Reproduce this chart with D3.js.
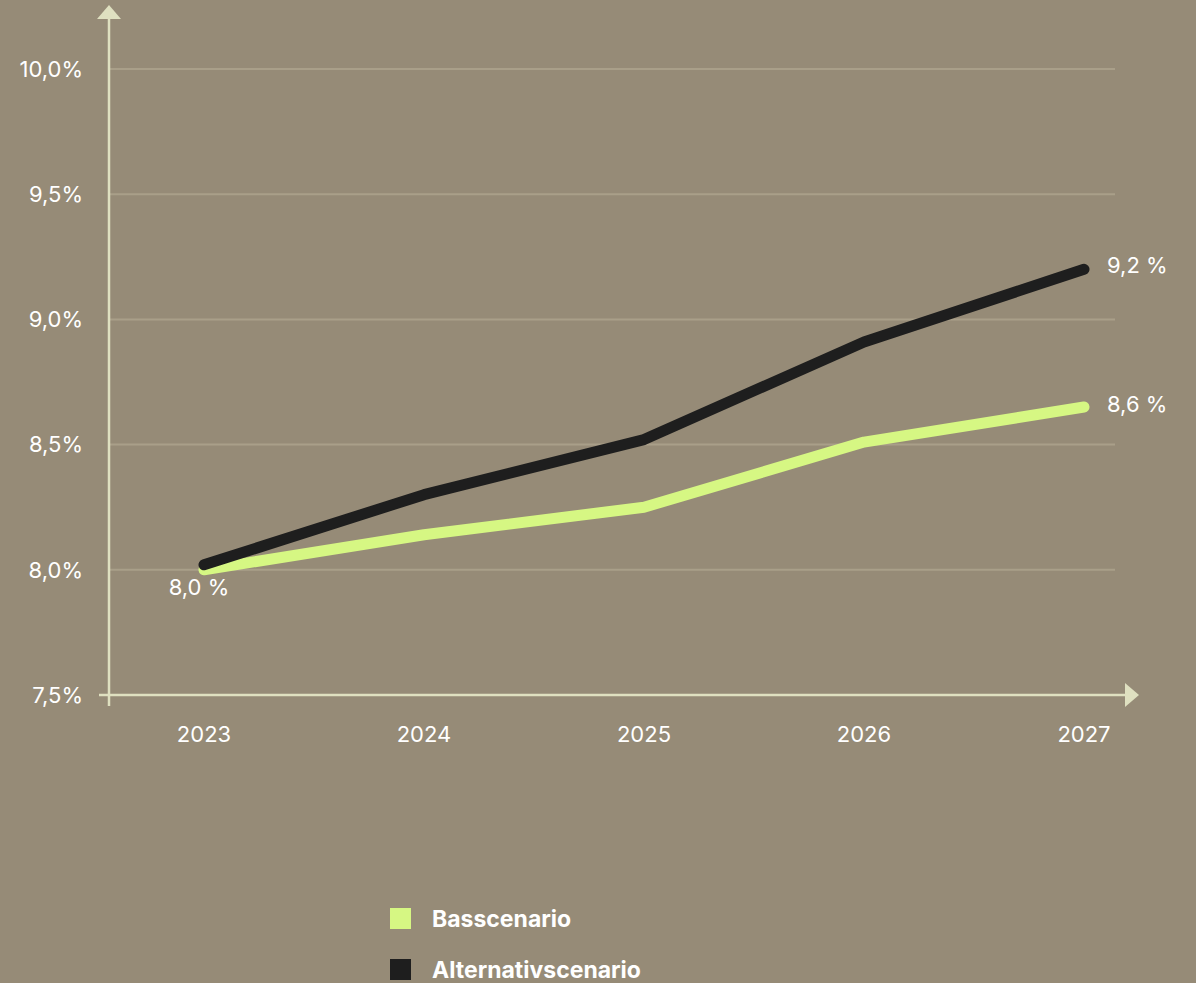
<!DOCTYPE html>
<html>
<head>
<meta charset="utf-8">
<script src="https://cdn.jsdelivr.net/npm/d3@7"></script>
<style>
  html, body { margin: 0; padding: 0; background: #968b77; }
  svg { display: block; font-family: Inter, "Noto Sans", sans-serif; }
</style>
</head>
<body>
<svg id="chart" width="1196" height="983"></svg>
<script>
const years = [2023, 2024, 2025, 2026, 2027];
const basValues = [8.0, 8.14, 8.25, 8.51, 8.65];
const altValues = [8.02, 8.30, 8.52, 8.91, 9.20];
const yTicks = [7.5, 8.0, 8.5, 9.0, 9.5, 10.0];
const yTickLabels = ['7,5%', '8,0%', '8,5%', '9,0%', '9,5%', '10,0%'];
const seriesNames = ['Basscenario', 'Alternativscenario'];
const seriesColors = ['#d6f783', '#1e1e1e'];

const axisColor = '#dfe0c0';
const gridColor = '#a99f89';
const textColor = '#ffffff';

const svg = d3.select('#chart');

const x = d3.scalePoint().domain(years).range([204, 1084]);
const y = d3.scaleLinear().domain([7.5, 10.0]).range([695, 69]);

// gridlines
svg.append('g')
  .selectAll('line')
  .data(yTicks.slice(1))
  .enter()
  .append('line')
  .attr('x1', 109)
  .attr('x2', 1115)
  .attr('y1', d => y(d))
  .attr('y2', d => y(d))
  .attr('stroke', gridColor)
  .attr('stroke-width', 2);

// y tick labels
svg.append('g')
  .selectAll('text')
  .data(yTicks)
  .enter()
  .append('text')
  .attr('x', 83)
  .attr('y', d => y(d))
  .attr('dy', '0.35em')
  .attr('text-anchor', 'end')
  .attr('fill', textColor)
  .attr('font-size', 22)
  .text((d, i) => yTickLabels[i]);

// x tick labels
svg.append('g')
  .selectAll('text')
  .data(years)
  .enter()
  .append('text')
  .attr('x', d => x(d))
  .attr('y', 734)
  .attr('dy', '0.35em')
  .attr('text-anchor', 'middle')
  .attr('fill', textColor)
  .attr('font-size', 22)
  .text(d => d);

// axes with arrows
svg.append('line')
  .attr('x1', 109).attr('x2', 109)
  .attr('y1', 706).attr('y2', 18)
  .attr('stroke', axisColor).attr('stroke-width', 2.5);
svg.append('path')
  .attr('d', 'M97,19 L121,19 L109,5 Z')
  .attr('fill', axisColor);
svg.append('line')
  .attr('x1', 99).attr('x2', 1126)
  .attr('y1', 695).attr('y2', 695)
  .attr('stroke', axisColor).attr('stroke-width', 2.5);
svg.append('path')
  .attr('d', 'M1125,683 L1125,707 L1139,695 Z')
  .attr('fill', axisColor);

// lines
const line = d3.line()
  .x((d, i) => x(years[i]))
  .y(d => y(d));

[basValues, altValues].forEach((vals, i) => {
  svg.append('path')
    .datum(vals)
    .attr('d', line)
    .attr('fill', 'none')
    .attr('stroke', seriesColors[i])
    .attr('stroke-width', 11)
    .attr('stroke-linecap', 'round')
    .attr('stroke-linejoin', 'round');
});

// value labels
svg.append('text')
  .attr('x', x(2023) - 5).attr('y', y(basValues[0]) + 17)
  .attr('dy', '0.35em')
  .attr('text-anchor', 'middle')
  .attr('fill', textColor).attr('font-size', 22)
  .text('8,0 %');
svg.append('text')
  .attr('x', 1107).attr('y', y(altValues[4]) - 4)
  .attr('dy', '0.35em')
  .attr('fill', textColor).attr('font-size', 22)
  .text('9,2 %');
svg.append('text')
  .attr('x', 1107).attr('y', y(basValues[4]) - 3)
  .attr('dy', '0.35em')
  .attr('fill', textColor).attr('font-size', 22)
  .text('8,6 %');

// legend
const legend = svg.append('g')
  .selectAll('g')
  .data(seriesNames)
  .enter()
  .append('g')
  .attr('transform', (d, i) => 'translate(390,' + (908 + i * 51) + ')');
legend.append('rect')
  .attr('width', 21).attr('height', 21)
  .attr('fill', (d, i) => seriesColors[i]);
legend.append('text')
  .attr('x', 42).attr('y', 11)
  .attr('dy', '0.35em')
  .attr('fill', textColor)
  .attr('font-size', 23)
  .attr('font-weight', 'bold')
  .text(d => d);
</script>
</body>
</html>
